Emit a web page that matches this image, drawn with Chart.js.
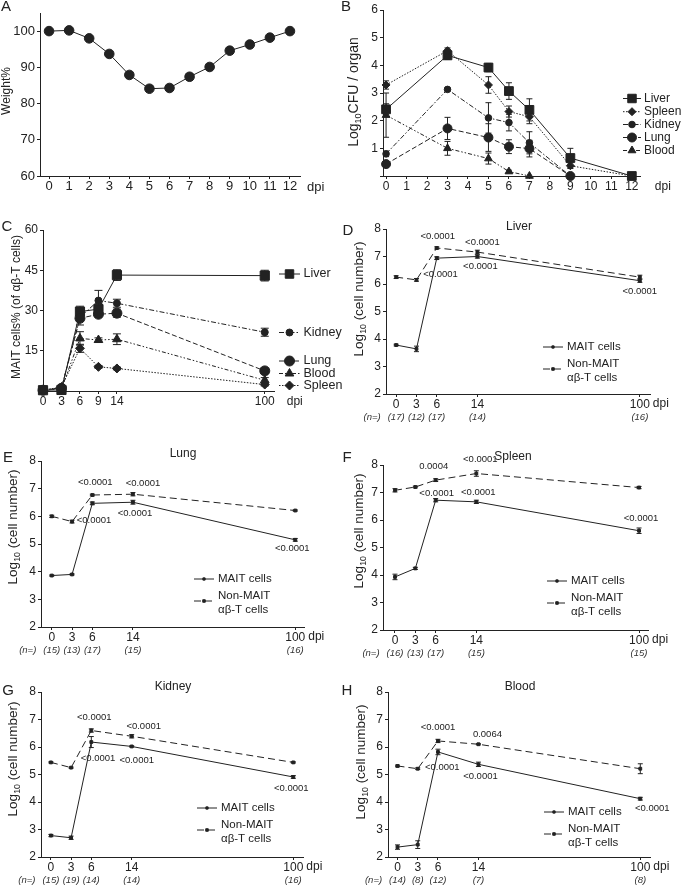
<!DOCTYPE html>
<html><head><meta charset="utf-8">
<script src="https://cdn.jsdelivr.net/npm/chart.js@4/dist/chart.umd.min.js"></script>
<style>
html,body{margin:0;padding:0;background:#fff;}
#wrap{position:relative;width:685px;height:886px;overflow:hidden;background:#fff;}
#wrap canvas{position:absolute;left:0;top:0;}
</style></head><body><div id="wrap"></div>
<script>
// ================= DATA =================
// Panel A: body weight
const dpiA = [0,1,2,3,4,5,6,7,8,9,10,11,12];
const weightA = [100,100.2,98,93.7,87.9,84.1,84.3,87.4,90.1,94.6,96.3,98.2,100];
const weightErrA = [0.3,0.5,0.6,0.6,0.8,0.7,0.7,0.9,0.8,0.7,0.7,0.5,0.4];

// Panel B: log10 CFU / organ
const dpiB = [0,3,5,6,7,9,12];
const cfuLiver  = [2.41,4.36,3.92,3.07,2.39,0.65,0];
const cfuSpleen = [3.29,4.53,3.29,2.33,2.14,0.37,0];
const cfuKidney = [0.80,3.13,2.10,1.93,1.20,0];
const cfuLung   = [0.43,1.72,1.39,1.06,0.99,0];
const cfuBlood  = [2.20,1.00,0.63,0.16,0];
const cfuLiverErr  = [0.2,0.15,0.15,0.3,0.4,0.35,0];
const cfuSpleenErr = [0.15,0.1,0.3,0.2,0.25,0.1,0];
const cfuKidneyErr = [0.1,0.05,0.55,0.3,0.4,0];
const cfuLungErr   = [0.1,0.4,0.5,0.25,0.3,0];
const cfuBloodErr  = [0.8,0.25,0.2,0.05,0];

// Panel C: MAIT cells % of ab-T cells
const dpiC = [0,3,6,9,14,100];
const maitLiverC  = [0.3,0.4,29.6,30.5,43.2,43.0];
const maitKidneyC = [0.4,1.2,27.5,33.7,32.7,21.9];
const maitLungC   = [0.3,1.0,27.1,28.6,29.0,7.5];
const maitBloodC  = [0.3,0.8,19.6,19.0,19.3,4.0];
const maitSpleenC = [0.3,1.5,15.9,9.0,8.4,2.4];
const maitLiverCErr  = [0.3,0.4,2.0,2.0,2.0,2.0];
const maitKidneyCErr = [0.2,0.4,1.5,3.8,1.5,1.5];
const maitLungCErr   = [0.2,0.3,2.5,1.0,1.5,1.0];
const maitBloodCErr  = [0.2,0.3,2.5,0.8,2.0,1.0];
const maitSpleenCErr = [0.2,0.3,1.5,0.5,0.5,0.5];

// Panels D-H: log10 cell number
const dpiCell = [0,3,6,14,100];
const tickLabelsCell = ['0','3','6','14','100'];
const liverMait = [3.78,3.64,6.94,7.00,6.12], liverMaitErr = [0.03,0.1,0.05,0.06,0.06];
const liverNon  = [6.25,6.15,7.31,7.16,6.25], liverNonErr  = [0.05,0.05,0.04,0.07,0.07];
const liverN = ['(17)','(12)','(17)','(14)','(16)'];
const liverP = ['<0.0001','<0.0001','<0.0001','<0.0001','<0.0001'];
const lungMait = [3.86,3.90,6.47,6.51,5.15], lungMaitErr = [0.02,0.02,0.05,0.07,0.05];
const lungNon  = [6.00,5.81,6.77,6.80,6.21], lungNonErr  = [0.04,0.05,0.03,0.06,0.02];
const lungN = ['(15)','(13)','(17)','(15)','(16)'];
const lungP = ['<0.0001','<0.0001','<0.0001','<0.0001','<0.0001'];
const spleenMait = [3.93,4.24,6.72,6.66,5.61], spleenMaitErr = [0.1,0.04,0.06,0.06,0.1];
const spleenNon  = [7.08,7.20,7.45,7.69,7.18], spleenNonErr  = [0.06,0.03,0.05,0.1,0.04];
const spleenN = ['(16)','(13)','(17)','(15)','(15)'];
const spleenP = ['0.0004','<0.0001','<0.0001','<0.0001','<0.0001'];
const kidneyMait = [2.78,2.70,6.18,6.02,4.91], kidneyMaitErr = [0.04,0.06,0.2,0.02,0.05];
const kidneyNon  = [5.44,5.25,6.60,6.39,5.44], kidneyNonErr  = [0.02,0.02,0.06,0.06,0.02];
const kidneyN = ['(15)','(19)','(14)','(14)','(16)'];
const kidneyP = ['<0.0001','<0.0001','<0.0001','<0.0001','<0.0001'];
const bloodMait = [2.36,2.45,5.82,5.37,4.12], bloodMaitErr = [0.08,0.14,0.1,0.08,0.05];
const bloodNon  = [5.31,5.21,6.22,6.10,5.21], bloodNonErr  = [0.03,0.03,0.06,0.02,0.18];
const bloodN = ['(14)','(8)','(12)','(7)','(8)'];
const bloodP = ['<0.0001','0.0064','<0.0001','<0.0001','<0.0001'];

// ================= HELPERS =================
const FONT = "'Liberation Sans', Arial, Helvetica, sans-serif";
const INK = '#222';
const W = 685, H = 886, YW = 30, XH = 22;

// broken time axis used by panels C-H (0..9 compressed, 9..14, 14..100)
function dayToAxis(d){ if (d <= 9) return d/3; if (d <= 14) return 3 + (d-9)/5; return 4 + (d-14)*8/86; }
const zip = (xs, ys, f) => ys.map((y,i)=>({x: f ? f(xs[i]) : xs[i], y}));

function drawMarker(ctx, style, r, x, y){
  ctx.save(); ctx.fillStyle = INK; ctx.strokeStyle = INK; ctx.setLineDash([]); ctx.lineWidth = 1;
  ctx.beginPath();
  if (style === 'circle') ctx.arc(x,y,r,0,Math.PI*2);
  else if (style === 'rect') { const s = r*Math.SQRT1_2; ctx.rect(x-s,y-s,2*s,2*s); }
  else if (style === 'rectRot') { ctx.moveTo(x,y-r); ctx.lineTo(x+r,y); ctx.lineTo(x,y+r); ctx.lineTo(x-r,y); ctx.closePath(); }
  else if (style === 'triangle') { ctx.moveTo(x,y-r); ctx.lineTo(x+r*0.866,y+r*0.5); ctx.lineTo(x-r*0.866,y+r*0.5); ctx.closePath(); }
  ctx.fill(); ctx.stroke(); ctx.restore();
}

function drawRotText(ctx, parts, cx, cy, size){
  ctx.save(); ctx.translate(cx, cy); ctx.rotate(-Math.PI/2);
  ctx.fillStyle = INK; ctx.textAlign = 'left'; ctx.textBaseline = 'middle';
  const ws = parts.map(p => { ctx.font = `${p.sub ? size*0.65 : size}px ${FONT}`; return ctx.measureText(p.t).width; });
  let x = -ws.reduce((a,b)=>a+b,0)/2;
  parts.forEach((p,i)=>{ ctx.font = `${p.sub ? size*0.65 : size}px ${FONT}`; ctx.fillText(p.t, x, p.sub ? size*0.32 : 0); x += ws[i]; });
  ctx.restore();
}

const errorPlugin = {
  id: 'errbars',
  beforeDatasetsDraw(chart){
    const ctx = chart.ctx, xs = chart.scales.x, ys = chart.scales.y;
    chart.data.datasets.forEach(ds => {
      if (!ds.errors) return;
      ctx.save(); ctx.strokeStyle = INK; ctx.lineWidth = 1; ctx.setLineDash([]);
      ds.data.forEach((p,i) => {
        const e = ds.errors[i]; if (!e) return;
        const x = xs.getPixelForValue(p.x), y1 = ys.getPixelForValue(p.y+e), y2 = ys.getPixelForValue(p.y-e);
        const cw = ds.capWidth || 3;
        ctx.beginPath();
        ctx.moveTo(x,y1); ctx.lineTo(x,y2);
        ctx.moveTo(x-cw,y1); ctx.lineTo(x+cw,y1);
        ctx.moveTo(x-cw,y2); ctx.lineTo(x+cw,y2);
        ctx.stroke();
      });
      ctx.restore();
    });
  }
};

function decorPlugin(spec){
  return { id: 'decor', afterDraw(chart){
    const ctx = chart.ctx, xs = chart.scales.x, ys = chart.scales.y;
    ctx.save(); ctx.fillStyle = INK; ctx.textBaseline = 'middle';
    if (spec.letter){ ctx.font = `15px ${FONT}`; ctx.textAlign = 'center'; ctx.fillText(spec.letter.t, spec.letter.x, spec.letter.y); }
    if (spec.title){ ctx.font = `12px ${FONT}`; ctx.textAlign = 'center'; ctx.fillText(spec.title.t, spec.title.x, spec.title.y); }
    if (spec.yTitle) drawRotText(ctx, spec.yTitle.parts, spec.yTitle.x, spec.yTitle.y, spec.yTitle.size);
    if (spec.dpi){
      const last = xs.ticks[xs.ticks.length-1].value;
      ctx.font = `${spec.dpi.size}px ${FONT}`; ctx.textAlign = 'left';
      ctx.fillText('dpi', xs.getPixelForValue(last) + spec.dpi.dx, ys.bottom + spec.dpi.dy);
    }
    if (spec.n){
      ctx.font = `italic 9.5px ${FONT}`; ctx.textAlign = 'center'; ctx.fillStyle = '#333';
      xs.ticks.forEach((t,i) => ctx.fillText(spec.n.labels[i], xs.getPixelForValue(t.value), ys.bottom + spec.n.dy));
      ctx.fillText('(n=)', xs.getPixelForValue(xs.ticks[0].value) + spec.n.dxLabel, ys.bottom + spec.n.dy);
      ctx.fillStyle = INK;
    }
    if (spec.pvals){
      ctx.font = `9.5px ${FONT}`; ctx.textAlign = 'center';
      spec.pvals.forEach(p => {
        const el = chart.getDatasetMeta(p.ds).data[p.i];
        ctx.fillText(p.t, el.x + p.dx, el.y + p.dy);
      });
    }
    if (spec.legend){
      const L = spec.legend;
      L.items.forEach(it => {
        ctx.save(); ctx.strokeStyle = INK; ctx.lineWidth = 1; ctx.setLineDash(it.dash || []);
        ctx.beginPath(); ctx.moveTo(L.x1, it.ly); ctx.lineTo(L.x2, it.ly); ctx.stroke(); ctx.restore();
        drawMarker(ctx, it.style, it.r, (L.x1+L.x2)/2, it.ly);
        ctx.font = `${L.size}px ${FONT}`; ctx.textAlign = 'left'; ctx.fillStyle = INK;
        it.lines.forEach((s,k) => ctx.fillText(s, L.tx, it.ty[k]));
      });
    }
    ctx.restore();
  }};
}

function makeChart(area, xCfg, yCfg, datasets, spec){
  const c = document.createElement('canvas');
  c.width = W; c.height = H;
  document.getElementById('wrap').appendChild(c);
  const axisCommon = (cfg, isX) => ({
    type: 'linear', min: cfg.min, max: cfg.max,
    grid: {display: true, drawOnChartArea: false, drawTicks: true, tickLength: 3, color: INK, lineWidth: 1},
    border: {display: true, color: INK, width: 1},
    ticks: {color: INK, font: {family: FONT, size: cfg.font}, padding: isX ? 0 : 2, maxRotation: 0, autoSkip: false,
            callback: (v,i) => cfg.labels[i]},
    afterBuildTicks: s => { s.ticks = cfg.ticks.map(v => ({value: v})); },
    afterFit: s => { if (isX) s.height = XH; else s.width = YW; s.paddingLeft = s.paddingRight = s.paddingTop = s.paddingBottom = 0; }
  });
  return new Chart(c, {
    type: 'scatter',
    data: {datasets},
    options: {
      responsive: false, animation: false, events: [],
      layout: {padding: {left: area.l - YW, top: area.t, right: W - area.r, bottom: H - area.b - XH}},
      plugins: {legend: {display: false}, tooltip: {enabled: false}, title: {display: false}},
      scales: {x: axisCommon(xCfg, true), y: axisCommon(yCfg, false)}
    },
    plugins: [errorPlugin, decorPlugin(spec)]
  });
}

function ds(data, errors, style, r, dash, cap){
  return {data, errors, capWidth: cap, showLine: true, borderColor: INK, backgroundColor: INK,
    borderWidth: 1, borderDash: dash, pointStyle: style, pointRadius: r, pointBorderWidth: 1,
    pointBorderColor: INK, pointBackgroundColor: INK, clip: false};
}

const DASH = {solid: [], dot: [1.5,1.5], dashdot: [5,2,1.5,2], dash: [5,2.5], dashdotdot: [4,2,1.5,2,1.5,2], long: [7,4]};

// ================= PANEL A =================
makeChart({l:40, r:300, t:13, b:176},
  {min:-0.45, max:12.5, ticks: dpiA, labels: dpiA.map(String), font: 13},
  {min:60, max:105, ticks:[60,70,80,90,100], labels:['60','70','80','90','100'], font: 13},
  [ds(zip(dpiA, weightA), weightErrA, 'circle', 4.8, DASH.solid, 3)],
  {letter:{t:'A', x:6, y:7}, yTitle:{parts:[{t:'Weight%'}], x:7, y:91, size:12},
   dpi:{dx:17, dy:11, size:13}});

// ================= PANEL B =================
makeChart({l:383, r:640, t:10, b:176},
  {min:-0.15, max:12.4, ticks: [0,1,2,3,4,5,6,7,8,9,10,11,12], labels: ['0','1','2','3','4','5','6','7','8','9','10','11','12'], font: 12},
  {min:0, max:6, ticks:[0,1,2,3,4,5,6], labels:['','1','2','3','4','5','6'], font: 12},
  [
    ds(zip(dpiB, cfuBlood), cfuBloodErr, 'triangle', 4.5, DASH.dashdotdot, 3),
    ds(zip(dpiB, cfuLung), cfuLungErr, 'circle', 4.5, DASH.dash, 3),
    ds(zip(dpiB, cfuKidney), cfuKidneyErr, 'circle', 3.3, DASH.dashdot, 3),
    ds(zip(dpiB, cfuSpleen), cfuSpleenErr, 'rectRot', 4, DASH.dot, 3),
    ds(zip(dpiB, cfuLiver), cfuLiverErr, 'rect', 6.2, DASH.solid, 3)
  ],
  {letter:{t:'B', x:346, y:7},
   yTitle:{parts:[{t:'Log'},{t:'10',sub:true},{t:'CFU / organ'}], x:354, y:92, size:14},
   dpi:{dx:23, dy:11, size:12},
   legend:{x1:623, x2:641, tx:644, size:12, items:[
     {lines:['Liver'],  style:'rect', r:6, dash:DASH.solid, ly:98.5, ty:[98.5]},
     {lines:['Spleen'], style:'rectRot', r:4, dash:DASH.dot, ly:111.7, ty:[111.7]},
     {lines:['Kidney'], style:'circle', r:3.3, dash:DASH.dashdot, ly:124.5, ty:[124.5]},
     {lines:['Lung'],   style:'circle', r:4.5, dash:DASH.dash, ly:137.5, ty:[137.5]},
     {lines:['Blood'],  style:'triangle', r:4.5, dash:DASH.dashdotdot, ly:150.5, ty:[150.5]}
   ]}});

// ================= PANEL C =================
makeChart({l:43, r:274, t:230, b:391},
  {min:0, max:12.5, ticks: dpiC.map(dayToAxis), labels: dpiC.map(String), font: 12},
  {min:0, max:60, ticks:[0,15,30,45,60], labels:['','15','30','45','60'], font: 12},
  [
    ds(zip(dpiC, maitSpleenC, dayToAxis), maitSpleenCErr, 'rectRot', 4.5, DASH.dot, 4),
    ds(zip(dpiC, maitBloodC, dayToAxis), maitBloodCErr, 'triangle', 5, DASH.dashdotdot, 4),
    ds(zip(dpiC, maitLungC, dayToAxis), maitLungCErr, 'circle', 5, DASH.dash, 4),
    ds(zip(dpiC, maitKidneyC, dayToAxis), maitKidneyCErr, 'circle', 3.5, DASH.dashdot, 4),
    ds(zip(dpiC, maitLiverC, dayToAxis), maitLiverCErr, 'rect', 6.5, DASH.solid, 4)
  ],
  {letter:{t:'C', x:7, y:227},
   yTitle:{parts:[{t:'MAIT cells% (of αβ-T cells)'}], x:17, y:307, size:12},
   dpi:{dx:22, dy:11, size:12},
   legend:{x1:279, x2:300, tx:303.5, size:12.5, items:[
     {lines:['Liver'],  style:'rect', r:6, dash:DASH.solid, ly:274, ty:[274]},
     {lines:['Kidney'], style:'circle', r:3.5, dash:DASH.dashdot, ly:332.5, ty:[332.5]},
     {lines:['Lung'],   style:'circle', r:5, dash:DASH.dash, ly:361, ty:[361]},
     {lines:['Blood'],  style:'triangle', r:5, dash:DASH.dashdotdot, ly:373.5, ty:[373.5]},
     {lines:['Spleen'], style:'rectRot', r:4.5, dash:DASH.dot, ly:385.5, ty:[385.5]}
   ]}});

// ================= PANELS D-H =================
function cellPanel(p){
  const x = dpiCell.map(dayToAxis);
  const pv = p.pText.map((t,k) => Object.assign({t}, p.pPos[k]));
  makeChart(p.area,
    {min:p.xmin, max:p.xmax, ticks:x, labels:tickLabelsCell, font:12},
    {min:2, max:8, ticks:[2,3,4,5,6,7,8], labels:['2','3','4','5','6','7','8'], font:12},
    [ds(zip(dpiCell, p.mait, dayToAxis), p.maitErr, 'rect', 2, DASH.solid, 2.5),
     ds(zip(dpiCell, p.non, dayToAxis), p.nonErr, 'rect', 2, DASH.long, 2.5)],
    {letter:{t:p.letter, x:p.lx, y:p.ly}, title:{t:p.title, x:p.tx, y:p.ty},
     yTitle:{parts:[{t:'Log'},{t:'10',sub:true},{t:' (cell number)'}], x:p.yx, y:p.yy, size:13.5},
     dpi:{dx:13, dy:10, size:12},
     n:{labels:p.n, dy:23, dxLabel:-24},
     pvals: pv,
     legend:{x1:p.gx, x2:p.gx+20, tx:p.gx+24, size:11.5, items:[
       {lines:['MAIT cells'], style:'rect', r:1.6, dash:DASH.solid, ly:p.gy, ty:[p.gy]},
       {lines:['Non-MAIT','αβ-T cells'], style:'rect', r:1.8, dash:DASH.long, ly:p.gy+22, ty:[p.gy+17, p.gy+31]}
     ]}});
}

cellPanel({area:{l:386, r:650, t:229, b:394}, xmin:-0.5, xmax:12.5,
  mait:liverMait, maitErr:liverMaitErr, non:liverNon, nonErr:liverNonErr, n:liverN, pText:liverP,
  pPos:[{ds:1,i:2,dx:1,dy:-12},{ds:1,i:3,dx:5,dy:-9.5},{ds:1,i:1,dx:24,dy:-6},{ds:0,i:3,dx:3,dy:10},{ds:0,i:4,dx:0,dy:11}],
  letter:'D', lx:348, ly:231, title:'Liver', tx:519, ty:227, yx:359, yy:299, gx:543, gy:347});

cellPanel({area:{l:41, r:304, t:461, b:627}, xmin:-0.53, xmax:12.43,
  mait:lungMait, maitErr:lungMaitErr, non:lungNon, nonErr:lungNonErr, n:lungN, pText:lungP,
  pPos:[{ds:1,i:2,dx:3,dy:-13},{ds:1,i:3,dx:10,dy:-11},{ds:1,i:1,dx:22,dy:-1},{ds:0,i:3,dx:2,dy:11},{ds:0,i:4,dx:-3,dy:8.5}],
  letter:'E', lx:8, ly:457.5, title:'Lung', tx:183, ty:454, yx:13, yy:527, gx:194, gy:579});

cellPanel({area:{l:383, r:648, t:465, b:630}, xmin:-0.59, xmax:12.44,
  mait:spleenMait, maitErr:spleenMaitErr, non:spleenNon, nonErr:spleenNonErr, n:spleenN, pText:spleenP,
  pPos:[{ds:1,i:2,dx:-2,dy:-13.5},{ds:1,i:3,dx:4,dy:-14.5},{ds:0,i:2,dx:1,dy:-7},{ds:0,i:3,dx:2,dy:-9},{ds:0,i:4,dx:2,dy:-12.7}],
  letter:'F', lx:347, ly:457.5, title:'Spleen', tx:513, ty:457, yx:359, yy:531, gx:547, gy:581});

cellPanel({area:{l:41, r:303, t:692, b:857}, xmin:-0.49, xmax:12.48,
  mait:kidneyMait, maitErr:kidneyMaitErr, non:kidneyNon, nonErr:kidneyNonErr, n:kidneyN, pText:kidneyP,
  pPos:[{ds:1,i:2,dx:3,dy:-13},{ds:1,i:3,dx:12,dy:-10},{ds:1,i:1,dx:27,dy:-9},{ds:0,i:3,dx:5,dy:14},{ds:0,i:4,dx:-2,dy:11.6}],
  letter:'G', lx:8, ly:691, title:'Kidney', tx:173, ty:687, yx:13, yy:759, gx:197, gy:808});

cellPanel({area:{l:388, r:650, t:692, b:857}, xmin:-0.47, xmax:12.48,
  mait:bloodMait, maitErr:bloodMaitErr, non:bloodNon, nonErr:bloodNonErr, n:bloodN, pText:bloodP,
  pPos:[{ds:1,i:2,dx:0,dy:-14},{ds:1,i:3,dx:9,dy:-10},{ds:1,i:1,dx:24.5,dy:-1},{ds:0,i:3,dx:2,dy:12},{ds:0,i:4,dx:12,dy:9.7}],
  letter:'H', lx:347, ly:691, title:'Blood', tx:520, ty:687, yx:361, yy:762, gx:544, gy:812});
</script></body></html>
